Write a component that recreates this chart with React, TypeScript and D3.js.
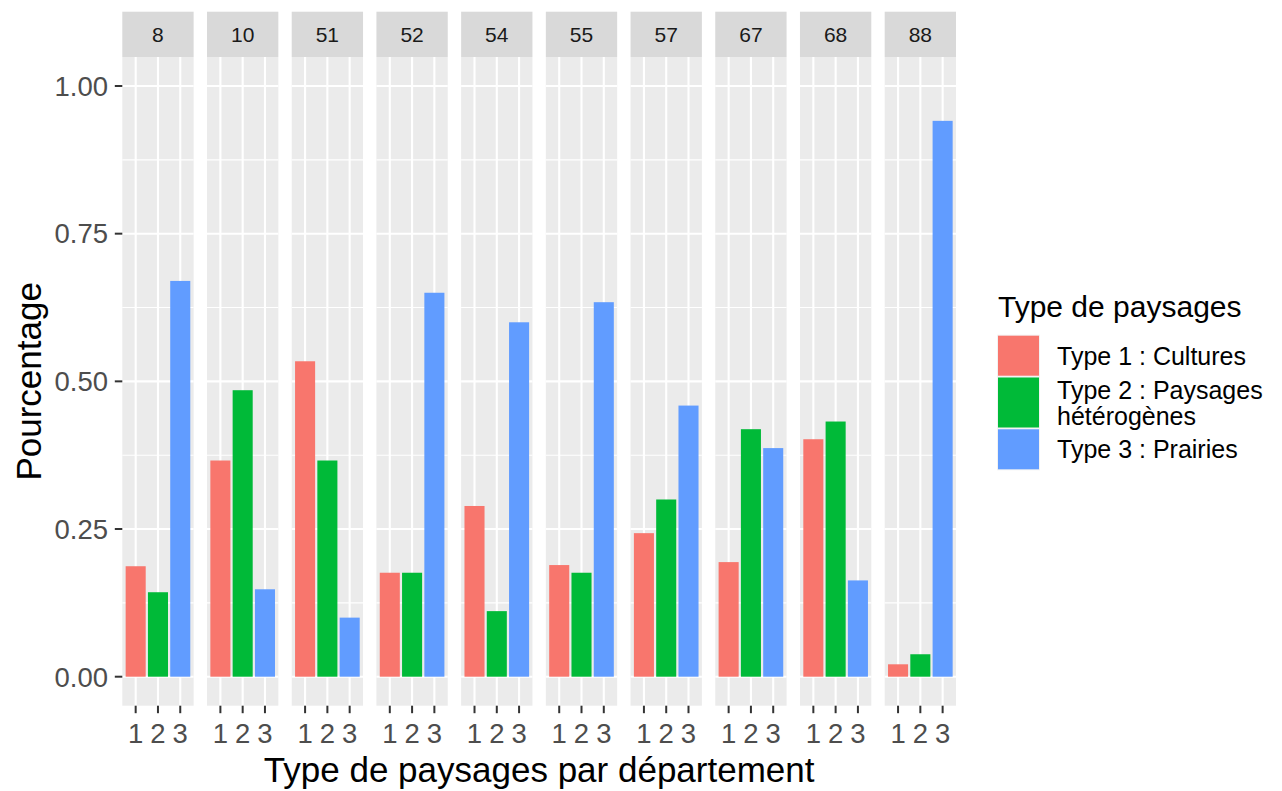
import React from "react";
import * as d3 from "d3";

const departments = ["8", "10", "51", "52", "54", "55", "57", "67", "68", "88"];
const types = ["1", "2", "3"];
const type1Values = [0.187, 0.366, 0.534, 0.176, 0.289, 0.189, 0.243, 0.194, 0.402, 0.021];
const type2Values = [0.143, 0.485, 0.366, 0.176, 0.111, 0.176, 0.300, 0.419, 0.432, 0.038];
const type3Values = [0.670, 0.148, 0.100, 0.650, 0.600, 0.634, 0.459, 0.387, 0.163, 0.941];
const yTicks = [0, 0.25, 0.5, 0.75, 1.0];
const yMinor = [0.125, 0.375, 0.625, 0.875];
const legendLabels = [["Type 1 : Cultures"], ["Type 2 : Paysages", "hétérogènes"], ["Type 3 : Prairies"]];
const colors = ["#F8766D", "#00BA38", "#619CFF"];

const FONT = "'Liberation Sans', Arial, sans-serif";

export default function App() {
  const W = 1282, H = 791;
  const panelTop = 57, panelBottom = 705.7;
  const stripTop = 11.7;
  const y = d3.scaleLinear().domain([0, 1]).range([676.7, 86]);
  const fx = d3.scaleBand<string>().domain(departments).range([122.3, 956]).paddingInner(0.158).paddingOuter(0);
  const bw = fx.bandwidth();
  const xi = d3.scaleLinear().domain([0.4, 3.6]).range([0, bw]);
  const unit = xi(1.4) - xi(0.4);
  const series = [type1Values, type2Values, type3Values];

  return (
    <svg width={W} height={H} style={{ position: "absolute", left: 0, top: 0, background: "#fff" }} fontFamily={FONT}>
      <rect width={W} height={H} fill="#fff" />
      {departments.map((dep, di) => {
        const x0 = fx(dep)!;
        return (
          <g key={dep}>
            <rect x={x0} y={panelTop} width={bw} height={panelBottom - panelTop} fill="#EBEBEB" />
            {yMinor.map((t) => (
              <line key={"mi" + t} x1={x0} x2={x0 + bw} y1={y(t)} y2={y(t)} stroke="#fff" strokeWidth={1.1} />
            ))}
            {yTicks.map((t) => (
              <line key={"ma" + t} x1={x0} x2={x0 + bw} y1={y(t)} y2={y(t)} stroke="#fff" strokeWidth={2.1} />
            ))}
            {types.map((tp, ti) => (
              <line key={"v" + tp} x1={x0 + xi(ti + 1)} x2={x0 + xi(ti + 1)} y1={panelTop} y2={panelBottom} stroke="#fff" strokeWidth={2.1} />
            ))}
            {types.map((tp, ti) => {
              const v = series[ti][di];
              const cx = x0 + xi(ti + 1);
              return (
                <rect key={"b" + tp} x={cx - unit * 0.45} width={unit * 0.9} y={y(v)} height={y(0) - y(v)} fill={colors[ti]} />
              );
            })}
            <rect x={x0} y={stripTop} width={bw} height={panelTop - stripTop} fill="#D9D9D9" />
            <text x={x0 + bw / 2} y={(stripTop + panelTop) / 2 + 7.5} textAnchor="middle" fontSize={21} fill="#1A1A1A">{dep}</text>
            {types.map((tp, ti) => (
              <g key={"t" + tp}>
                <line x1={x0 + xi(ti + 1)} x2={x0 + xi(ti + 1)} y1={panelBottom} y2={panelBottom + 7.5} stroke="#333" strokeWidth={2} />
                <text x={x0 + xi(ti + 1)} y={743} textAnchor="middle" fontSize={27.5} fill="#4D4D4D">{tp}</text>
              </g>
            ))}
          </g>
        );
      })}
      {yTicks.map((t) => (
        <g key={"yt" + t}>
          <line x1={114.8} x2={122.3} y1={y(t)} y2={y(t)} stroke="#333" strokeWidth={2} />
          <text x={108} y={y(t) + 9.8} textAnchor="end" fontSize={27.5} fill="#4D4D4D">{t.toFixed(2)}</text>
        </g>
      ))}
      <text x={(122.3 + 956) / 2} y={782} textAnchor="middle" fontSize={35} fill="#000">Type de paysages par département</text>
      <text transform={`translate(41,${(panelTop + panelBottom) / 2}) rotate(-90)`} textAnchor="middle" fontSize={35} fill="#000">Pourcentage</text>
      <text x={998} y={316.7} fontSize={30} fill="#000">Type de paysages</text>
      {(() => {
        const keyH = [40, 50, 40];
        let yy = 335.7;
        return legendLabels.map((lines, i) => {
          const top = yy;
          yy += keyH[i] + 1.8;
          const cy = top + keyH[i] / 2;
          const lh = 26;
          const firstBase = cy - ((lines.length - 1) * lh) / 2 + 9;
          return (
            <g key={"lg" + i}>
              <rect x={997} y={top - 1} width={43} height={keyH[i] + 2} fill="#F2F2F2" />
              <rect x={998} y={top} width={41} height={keyH[i]} fill={colors[i]} />
              {lines.map((ln, li) => (
                <text key={li} x={1057} y={firstBase + li * lh} fontSize={25} fill="#000">{ln}</text>
              ))}
            </g>
          );
        });
      })()}
    </svg>
  );
}
